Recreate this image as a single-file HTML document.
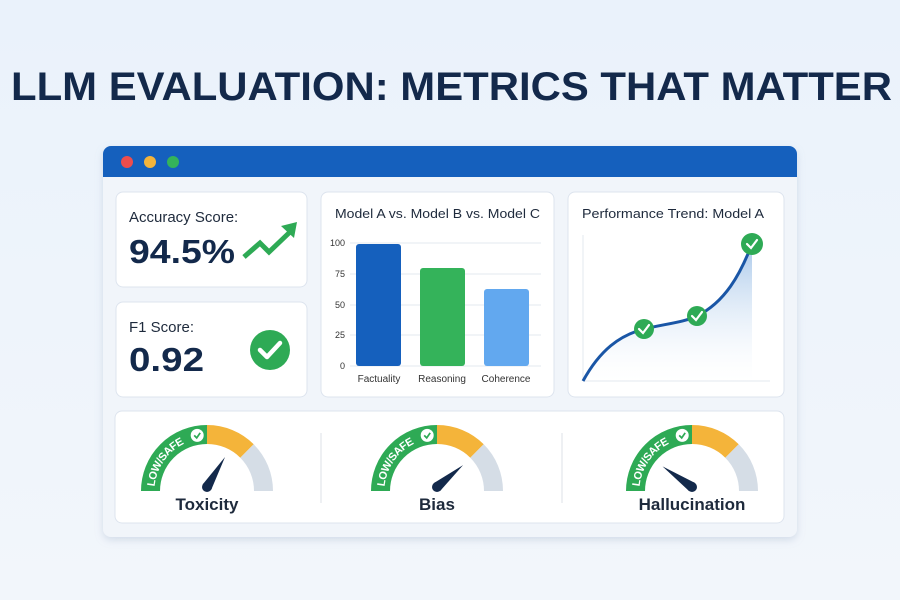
<!DOCTYPE html>
<html><head><meta charset="utf-8"><style>
html,body{margin:0;padding:0;background:#eef4fb;}
svg{display:block;font-family:"Liberation Sans",sans-serif;}
</style></head><body>
<svg id="s" width="900" height="600" viewBox="0 0 900 600" xmlns="http://www.w3.org/2000/svg">
<defs>
<linearGradient id="bg" x1="0" y1="0" x2="0" y2="1"><stop offset="0" stop-color="#eaf2fb"/><stop offset="1" stop-color="#f2f6fb"/></linearGradient>
<linearGradient id="area" x1="0" y1="0" x2="0" y2="1"><stop offset="0" stop-color="#a9c8ea"/><stop offset="1" stop-color="#ffffff" stop-opacity="0.2"/></linearGradient>
<filter id="sh" x="-10%" y="-10%" width="120%" height="130%"><feDropShadow dx="0" dy="3" stdDeviation="4" flood-color="#8aa0bd" flood-opacity="0.3"/></filter>
</defs>
<rect width="900" height="600" fill="url(#bg)"/>
<text x="11" y="100" font-size="40" font-weight="bold" fill="#13294b" textLength="881" lengthAdjust="spacingAndGlyphs">LLM EVALUATION: METRICS THAT MATTER</text>

<rect x="103" y="146" width="694" height="391" rx="8" fill="#f1f5fa" filter="url(#sh)"/>
<path d="M111 146 H789 A8 8 0 0 1 797 154 V177 H103 V154 A8 8 0 0 1 111 146Z" fill="#1560bd"/>
<circle cx="127" cy="162" r="6" fill="#ee4d4d"/>
<circle cx="150" cy="162" r="6" fill="#f4b43a"/>
<circle cx="173" cy="162" r="6" fill="#34b35a"/>

<rect x="116" y="192" width="191" height="95" rx="7" fill="#fff" stroke="#dde4ee"/>
<text x="129" y="222" font-size="15" fill="#1e2a3c">Accuracy Score:</text>
<text x="129" y="263" font-size="33" font-weight="bold" fill="#13294b" textLength="106" lengthAdjust="spacingAndGlyphs">94.5%</text>
<polyline points="244,257 260,243 269,252 290,232" fill="none" stroke="#2eaa55" stroke-width="5" stroke-linejoin="miter"/>
<polygon points="281,226 297,222 294,238" fill="#2eaa55"/>

<rect x="116" y="302" width="191" height="95" rx="7" fill="#fff" stroke="#dde4ee"/>
<text x="129" y="332" font-size="15" fill="#1e2a3c">F1 Score:</text>
<text x="129" y="371" font-size="33" font-weight="bold" fill="#13294b" textLength="75" lengthAdjust="spacingAndGlyphs">0.92</text>
<circle cx="270" cy="350" r="20" fill="#2eaa55"/>
<polyline points="260,350 267,357 280,343" fill="none" stroke="#fff" stroke-width="4.5" stroke-linecap="round" stroke-linejoin="round"/>

<rect x="321" y="192" width="233" height="205" rx="7" fill="#fff" stroke="#dde4ee"/>
<text x="335" y="218" font-size="12.5" fill="#1e2a3c" textLength="205" lengthAdjust="spacingAndGlyphs">Model A vs. Model B vs. Model C</text>
<g stroke="#e3e8ef" stroke-width="1">
<line x1="350" y1="243" x2="541" y2="243"/><line x1="350" y1="274" x2="541" y2="274"/><line x1="350" y1="305" x2="541" y2="305"/><line x1="350" y1="335" x2="541" y2="335"/><line x1="350" y1="366" x2="541" y2="366"/>
</g>
<g font-size="9" fill="#333" text-anchor="end">
<text x="345" y="246">100</text><text x="345" y="277">75</text><text x="345" y="308">50</text><text x="345" y="338">25</text><text x="345" y="369">0</text>
</g>
<rect x="356" y="244" width="45" height="122" rx="3" fill="#1560bd"/>
<rect x="420" y="268" width="45" height="98" rx="3" fill="#34b35a"/>
<rect x="484" y="289" width="45" height="77" rx="3" fill="#62a8ef"/>
<g font-size="10" fill="#333" text-anchor="middle">
<text x="379" y="382">Factuality</text><text x="442" y="382">Reasoning</text><text x="506" y="382">Coherence</text>
</g>

<rect x="568" y="192" width="216" height="205" rx="7" fill="#fff" stroke="#dde4ee"/>
<text x="582" y="218" font-size="12.5" fill="#1e2a3c" textLength="182" lengthAdjust="spacingAndGlyphs">Performance Trend: Model A</text>
<path d="M583 381 C600 350 620 335 644 329 C665 324 685 322 697 316 C725 302 740 275 752 244 L752 381 Z" fill="url(#area)"/>
<line x1="583" y1="235" x2="583" y2="381" stroke="#e3e8ef"/>
<line x1="583" y1="381" x2="770" y2="381" stroke="#e3e8ef"/>
<path d="M583 381 C600 350 620 335 644 329 C665 324 685 322 697 316 C725 302 740 275 752 244" fill="none" stroke="#1a56a6" stroke-width="3"/>
<circle cx="644" cy="329" r="10" fill="#2eaa55"/><polyline points="639,329 643,333 649,325" fill="none" stroke="#fff" stroke-width="2.2" stroke-linecap="round"/>
<circle cx="697" cy="316" r="10" fill="#2eaa55"/><polyline points="692,316 696,320 702,312" fill="none" stroke="#fff" stroke-width="2.2" stroke-linecap="round"/>
<circle cx="752" cy="244" r="11" fill="#2eaa55"/><polyline points="747,244 751,248 757,240" fill="none" stroke="#fff" stroke-width="2.2" stroke-linecap="round"/>

<rect x="115" y="411" width="669" height="112" rx="7" fill="#fff" stroke="#dde4ee"/>
<line x1="321" y1="433" x2="321" y2="503" stroke="#dde1e7"/>
<line x1="562" y1="433" x2="562" y2="503" stroke="#dde1e7"/>
<g id="gauges"></g>
</svg>
<script>
var g=document.getElementById('gauges'),NS='http://www.w3.org/2000/svg',BY=491,R=56.5;
function pt(cx,a,r){a=a*Math.PI/180;return (cx+r*Math.cos(a)).toFixed(1)+' '+(BY-r*Math.sin(a)).toFixed(1);}
function arc(cx,a1,a2,r){return 'M'+pt(cx,a1,r)+' A'+r+' '+r+' 0 0 1 '+pt(cx,a2,r);}
function el(t,at,txt){var e=document.createElementNS(NS,t);for(var k in at)e.setAttribute(k,at[k]);if(txt)e.textContent=txt;g.appendChild(e);return e;}
var G=[[207,'Toxicity',59,35],[437,'Bias',40,34],[692,'Hallucination',145,36]];
G.forEach(function(d,i){var cx=d[0];
el('path',{d:arc(cx,180,90,R),fill:'none',stroke:'#2eaa55','stroke-width':19,id:'ga'+i});
el('path',{d:arc(cx,90,45,R),fill:'none',stroke:'#f4b43a','stroke-width':19});
el('path',{d:arc(cx,45,0,R),fill:'none',stroke:'#d5dde6','stroke-width':19});
var t=el('text',{'font-size':'11','font-weight':'bold',fill:'#fff',dy:'4'});
var tp=document.createElementNS(NS,'textPath');tp.setAttributeNS('http://www.w3.org/1999/xlink','href','#ga'+i);tp.setAttribute('href','#ga'+i);tp.setAttribute('startOffset','5');tp.textContent='LOW/SAFE';t.appendChild(tp);
var c=pt(cx,100,R).split(' ');var x=+c[0],y=+c[1];
el('circle',{cx:x,cy:y,r:6.5,fill:'#fff'});
el('polyline',{points:(x-3)+','+y+' '+(x-0.5)+','+(y+2.5)+' '+(x+3)+','+(y-2.5),fill:'none',stroke:'#2eaa55','stroke-width':1.7});
var a=d[2]*Math.PI/180,px=cx,py=487,L=d[3];
var tx=px+L*Math.cos(a),ty=py-L*Math.sin(a),nx=-Math.sin(a)*5,ny=-Math.cos(a)*5;
el('path',{d:'M'+(px+nx)+' '+(py+ny)+' L'+tx+' '+ty+' L'+(px-nx)+' '+(py-ny)+' Z',fill:'#13294b'});
el('circle',{cx:px,cy:py,r:5,fill:'#13294b'});
el('text',{x:cx,y:510,'font-size':'17','font-weight':'bold',fill:'#1e2a3c','text-anchor':'middle'},d[1]);
});
</script>
</body></html>
